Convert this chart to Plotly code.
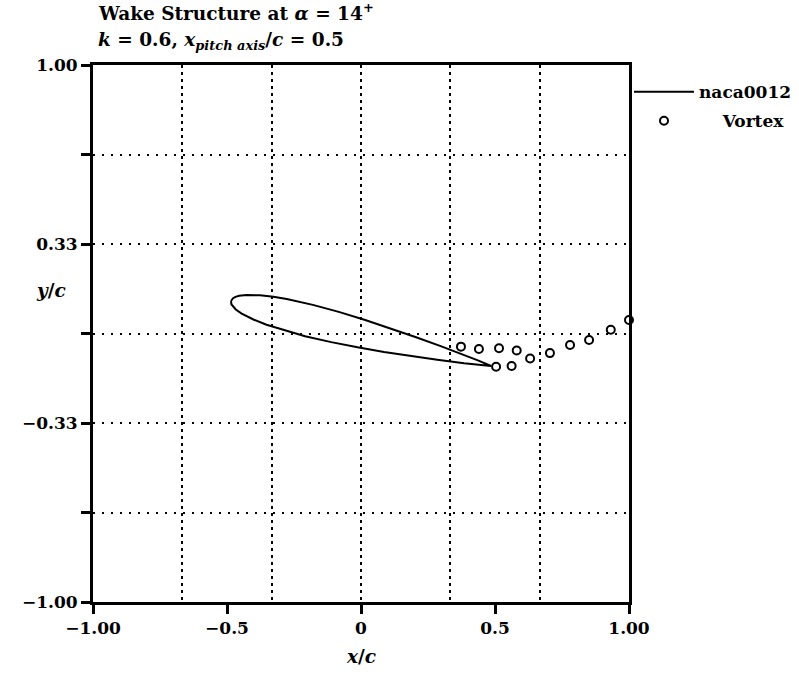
import plotly.graph_objects as go

# NACA0012 outline at 14 deg pitch about x/c=0.5, closed loop LE->upper->TE->lower->LE
foil_x = [-0.4852, -0.4773, -0.4684, -0.4546, -0.4280, -0.4022, -0.3768, -0.3267, -0.2772,
          -0.1795, -0.0830, 0.0128, 0.1081, 0.2029, 0.2974, 0.3916, 0.4386, 0.4852,
          0.4347, 0.3846, 0.2847, 0.1852, 0.0860, -0.0128, -0.1111, -0.2086, -0.3050,
          -0.3525, -0.3995, -0.4225, -0.4452, -0.4672, -0.4776, -0.4832, -0.4852]
foil_y = [0.1210, 0.1316, 0.1363, 0.1403, 0.1434, 0.1436, 0.1422, 0.1365, 0.1282,
          0.1066, 0.0805, 0.0514, 0.0201, -0.0128, -0.0471, -0.0827, -0.1010, -0.1210,
          -0.1167, -0.1108, -0.0980, -0.0839, -0.0685, -0.0514, -0.0321, -0.0099, 0.0169,
          0.0328, 0.0513, 0.0621, 0.0744, 0.0895, 0.0996, 0.1079, 0.1210]

# wake vortices
vort_x = [0.373, 0.440, 0.515, 0.581, 0.631, 0.705, 0.780, 0.851, 0.932, 1.0, 0.504, 0.562]
vort_y = [-0.049, -0.058, -0.055, -0.063, -0.093, -0.073, -0.043, -0.024, 0.014, 0.050, -0.124, -0.121]

x_tickvals = [-1, -0.5, 0, 0.5, 1]
x_ticktext = ["\u22121.00", "\u22120.5", "0", "0.5", "1.00"]
y_tickvals = [-1, -1/3, 1/3, 1]
y_ticktext = ["\u22121.00", "\u22120.33", "0.33", "1.00"]
y_minorvals = [-2/3, 0, 2/3]
x_gridvals = [-2/3, -1/3, 0, 1/3, 2/3]

FONT = "DejaVu Serif"
FS = 17
FT = 18.5

fig = go.Figure()
fig.add_trace(go.Scatter(x=foil_x, y=foil_y, mode="lines", name="naca0012", legendgroup="a",
                         line=dict(color="black", width=2)))
fig.add_trace(go.Scatter(x=vort_x, y=vort_y, mode="markers", name="\u00a0\u00a0\u00a0\u00a0Vortex",
                         legendgroup="b", cliponaxis=False,
                         marker=dict(symbol="circle-open", size=8, color="black",
                                     line=dict(color="black", width=2))))
# invisible trace to host the vertical grid axis
fig.add_trace(go.Scatter(x=[-1, 1], y=[0, 0], xaxis="x2", mode="lines", showlegend=False,
                         hoverinfo="skip", line=dict(width=0, color="rgba(0,0,0,0)")))

grid_h = dict(gridcolor="black", gridwidth=1.5, griddash="2px,7px")

fig.update_layout(
    width=799, height=675,
    margin=dict(l=93, r=170, t=65, b=73, autoexpand=False),
    paper_bgcolor="white", plot_bgcolor="white",
    font=dict(family=FONT, color="black", size=FS, weight="bold"),
    xaxis=dict(range=[-1, 1], tickvals=x_tickvals, ticktext=x_ticktext,
               showgrid=False, zeroline=False, showline=True, linecolor="black",
               linewidth=3, mirror=True, ticks="outside", ticklen=9, tickwidth=3,
               tickcolor="black", tickfont=dict(family=FONT, size=FS, weight="bold")),
    xaxis2=dict(range=[-1, 1], overlaying="x", anchor="y", side="bottom",
                tickvals=x_gridvals, showticklabels=False, ticks="",
                showgrid=True, gridcolor="black", gridwidth=2, griddash="3px,4px",
                zeroline=False, showline=False),
    yaxis=dict(range=[-1, 1], tickvals=y_tickvals, ticktext=y_ticktext,
               showgrid=True, **grid_h,
               zeroline=False, showline=True, linecolor="black",
               linewidth=3, mirror=True, ticks="outside", ticklen=9, tickwidth=3,
               tickcolor="black", tickfont=dict(family=FONT, size=FS, weight="bold"),
               minor=dict(tickvals=y_minorvals, ticks="outside", ticklen=9, tickwidth=3,
                          tickcolor="black", showgrid=True, **grid_h)),
    showlegend=True,
    legend=dict(x=1.0, xanchor="left", y=0.983, yanchor="top", bgcolor="rgba(0,0,0,0)",
                font=dict(family=FONT, size=FS, weight="bold"), itemwidth=60,
                tracegroupgap=4),
)

fig.add_annotation(text="Wake Structure at <i>\u03b1</i> = 14<sup>+</sup>", xref="paper", yref="paper",
                   x=0.0056, y=1.098, xanchor="left", yanchor="middle", showarrow=False,
                   font=dict(family=FONT, size=FT, weight="bold"))
fig.add_annotation(text="<i>k</i> = 0.6, <i>x</i><sub><i>pitch axis</i></sub>/<i>c</i> = 0.5",
                   xref="paper", yref="paper",
                   x=0.0056, y=1.045, xanchor="left", yanchor="middle", showarrow=False,
                   font=dict(family=FONT, size=FT, weight="bold"))
fig.add_annotation(text="<i>x</i>/<i>c</i>", xref="paper", yref="paper",
                   x=0.5, y=-0.102, xanchor="center", yanchor="middle", showarrow=False,
                   font=dict(family=FONT, size=FT, weight="bold"))
fig.add_annotation(text="<i>y</i>/<i>c</i>", xref="paper", yref="y",
                   x=-0.078, y=0.162, xanchor="center", yanchor="middle", showarrow=False,
                   font=dict(family=FONT, size=FT, weight="bold"))

fig.write_html("out.html")
